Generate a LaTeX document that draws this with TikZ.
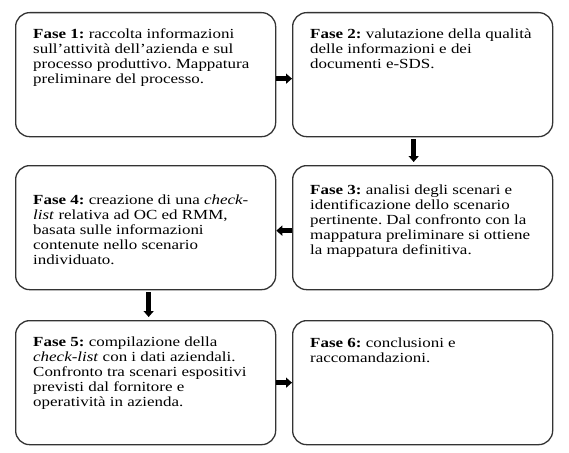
\documentclass[tikz,border=0pt]{standalone}
\usepackage{fontspec}
\setmainfont[FakeStretch=1.22]{Liberation Serif}
\usetikzlibrary{arrows.meta}
\frenchspacing
\begin{document}
\begin{tikzpicture}[x=1pt,y=-1pt,
  box/.style={draw=black!80, line width=1.3pt, rounded corners=14pt, anchor=north west, minimum width=260pt, minimum height=124pt, inner sep=0pt},
  txt/.style={anchor=north west, inner sep=0pt, align=left, font=\fontsize{13.9}{15}\selectfont},
  arr/.style={line width=4.5pt, -{Triangle[width=10pt,length=6pt]}, black}]
\useasboundingbox (0,0) rectangle (569,452);
\node[box] (b1) at (15,12) {};
\node[box] (b2) at (292,12) {};
\node[box] (b4) at (15,165) {};
\node[box] (b3) at (292,165) {};
\node[box] (b5) at (15,320) {};
\node[box] (b6) at (292,320) {};

\node[txt] (t1) at (33,28.5) {\textbf{Fase 1:} raccolta informazioni\\sull’attività dell’azienda e sul\\processo produttivo. Mappatura\\preliminare del processo.};
\node[txt] (t2) at (310,28.5) {\textbf{Fase 2:} valutazione della qualità\\delle informazioni e dei\\documenti e-SDS.};
\node[txt] (t3) at (310,184.5) {\textbf{Fase 3:} analisi degli scenari e\\identificazione dello scenario\\pertinente. Dal confronto con la\\mappatura preliminare si ottiene\\la mappatura definitiva.};
\node[txt] (t4) at (33,194.5) {\textbf{Fase 4:} creazione di una \textit{check-}\\\textit{list} relativa ad OC ed RMM,\\basata sulle informazioni\\contenute nello scenario\\individuato.};
\node[txt] (t5) at (33,336.5) {\textbf{Fase 5:} compilazione della\\\textit{check-list} con i dati aziendali.\\Confronto tra scenari espositivi\\previsti dal fornitore e\\operatività in azienda.};
\node[txt] (t6) at (310,337.5) {\textbf{Fase 6:} conclusioni e\\raccomandazioni.};

\draw[arr] ([yshift=-4pt]b1.east) -- ([yshift=-4pt]b2.west);
\draw[arr] ([xshift=-9pt,yshift=-2pt]b2.south) -- ([xshift=-9pt,yshift=3pt]b3.north);
\draw[arr] ([yshift=-3pt]b3.west) -- ([yshift=-3pt]b4.east);
\draw[arr] ([xshift=3pt,yshift=-2pt]b4.south) -- ([xshift=3pt,yshift=3pt]b5.north);
\draw[arr] ([yshift=0pt]b5.east) -- ([yshift=0pt]b6.west);
\end{tikzpicture}
\end{document}
